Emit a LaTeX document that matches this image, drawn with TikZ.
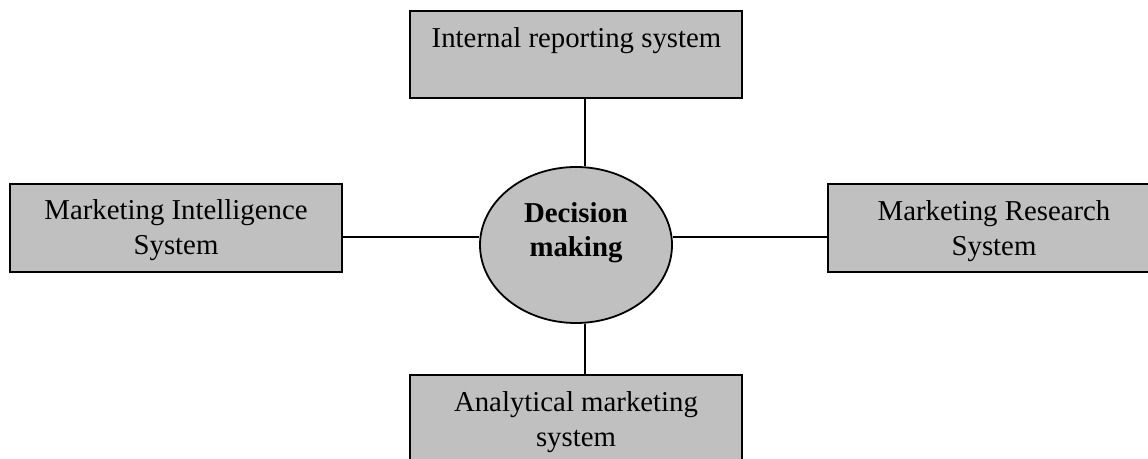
\documentclass[tikz,border=0pt]{standalone}
\usepackage{fontspec}
\setmainfont{Liberation Serif}
\usetikzlibrary{shapes.geometric}
\definecolor{boxgray}{HTML}{C0C0C0}
\begin{document}
\begin{tikzpicture}[x=0.75pt,y=-0.75pt,
  sysbox/.style={draw=black,fill=boxgray,line width=1.35pt,rectangle,
    minimum width=249pt,minimum height=65.6pt,inner sep=0pt},
  core/.style={draw=black,fill=boxgray,line width=1.35pt,ellipse,
    minimum width=144pt,minimum height=117pt,inner sep=0pt},
  txt/.style={anchor=base,inner sep=0pt,font=\fontsize{21.6}{26.25}\selectfont},
  link/.style={draw=black,line width=1.35pt}]
\useasboundingbox (0,0) rectangle (1148,459);
\clip (0,0) rectangle (1148,459);

% the four information subsystems
\node[sysbox] (ir) at (576,54.5) {};
\node[sysbox] (mi) at (176,228) {};
\node[sysbox] (mr) at (994,228) {};
\node[sysbox] (am) at (576,419) {};

% central decision node
\node[core] (dm) at (576,245) {};

% labels
\node[txt] (irt) at (576.5,47.7) {Internal reporting system};
\node[txt] (mit1) at (176,220) {Marketing Intelligence};
\node[txt] (mit2) at (176,255) {System};
\node[txt] (mrt1) at (994,220.5) {Marketing Research};
\node[txt] (mrt2) at (994,255.5) {System};
\node[txt] (amt1) at (576,411.5) {Analytical marketing};
\node[txt] (amt2) at (576,446) {system};
\node[txt,font=\fontsize{21.6}{26.25}\selectfont\bfseries] (dmt1) at (576,223) {Decision};
\node[txt,font=\fontsize{21.6}{26.25}\selectfont\bfseries] (dmt2) at (576,257) {making};

% connectors
\coordinate (vx) at (585,0);
\coordinate (hy) at (0,237);
\draw[link] (ir.south -| vx) -- (dm.north -| vx);
\draw[link] (dm.south -| vx) -- (am.north -| vx);
\draw[link] (mi.east |- hy) -- (dm.west |- hy);
\draw[link] (dm.east |- hy) -- (mr.west |- hy);
\end{tikzpicture}
\end{document}
